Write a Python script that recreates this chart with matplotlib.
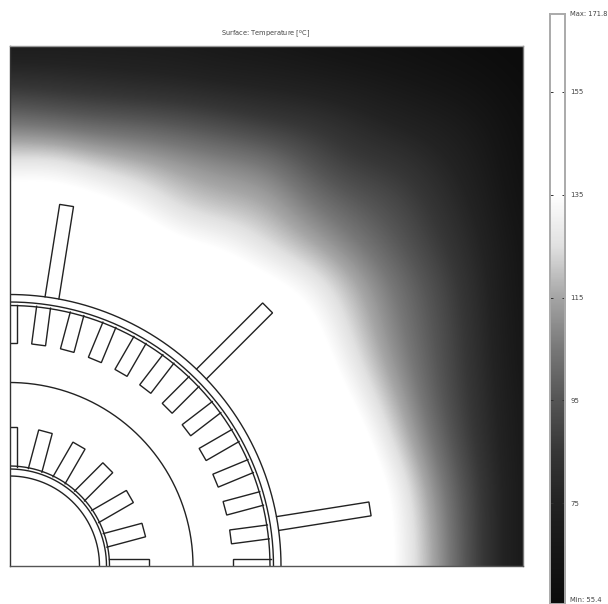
import numpy as np
import matplotlib
matplotlib.use("Agg")
import matplotlib.pyplot as plt
from matplotlib.colors import LinearSegmentedColormap, Normalize

W, H = 608, 604

# temperature, rows top to bottom, 13 columns left to right
row_01 = [68, 69, 69, 69, 68, 66, 65, 63, 61, 60, 58, 56, 55]
row_02 = [84, 82, 80, 78, 77, 75, 74, 72, 70, 67, 64, 61, 56]
row_03 = [106, 103, 100, 99, 96, 92, 87, 85, 80, 75, 72, 67, 58]
row_04 = [130, 132, 124, 119, 114, 110, 107, 95, 87, 85, 78, 70, 59]
row_05 = [143, 143, 141, 134, 123, 119, 117, 106, 98, 92, 83, 73, 60]
row_06 = [150, 150, 148, 145, 138, 135, 125, 117, 107, 97, 87, 76, 62]
row_07 = [158, 158, 155, 152, 148, 145, 140, 132, 118, 104, 92, 78, 62]
row_08 = [164, 164, 160, 158, 155, 150, 146, 140, 123, 107, 94, 79, 63]
row_09 = [168, 168, 165, 162, 160, 155, 150, 145, 129, 111, 95, 80, 63]
row_10 = [170, 170, 168, 165, 162, 158, 154, 150, 137, 118, 97, 81, 65]
row_11 = [171, 171, 170, 168, 165, 160, 156, 152, 145, 125, 102, 82, 65]
row_12 = [171, 171, 170, 169, 166, 162, 158, 154, 148, 134, 108, 85, 65]
row_13 = [171, 171, 170, 169, 167, 163, 160, 156, 150, 136, 112, 85, 65]
row_14 = [171, 171, 170, 169, 167, 164, 161, 157, 150, 136, 113, 85, 65]

temperature = np.array([row_01, row_02, row_03, row_04, row_05, row_06, row_07,
                        row_08, row_09, row_10, row_11, row_12, row_13, row_14], dtype=float)

# grey scale of the colour bar
scale_temp = [55.4, 65, 75, 85, 95, 105, 115, 125, 135, 171.8]
scale_grey = [12, 22, 35, 55, 85, 120, 165, 225, 255, 255]

bar_ticks = [155, 135, 115, 95, 75]
t_min = 55.4
t_max = 171.8

# geometry of the machine section, radii from the corner
arc_radii = [90, 97, 100, 183.5, 260.5, 264, 271.5]
stator_angles = [0, 7.5, 15, 22.5, 30, 37.5, 45, 52.5, 60, 67.5, 75, 82.5, 90]
stator_slot = (261, 223)
rotor_angles = [0, 15, 30, 45, 60, 75, 90]
rotor_slot = (99, 139)
fin_angles = [9, 45, 81]
fin_span = (271.5, 365)
slot_half_width = 7

grey_pos = [(t - t_min) / (t_max - t_min) for t in scale_temp]
grey_cols = [(g / 255, g / 255, g / 255) for g in scale_grey]
cmap = LinearSegmentedColormap.from_list("machine_grey", list(zip(grey_pos, grey_cols)), N=512)
norm = Normalize(t_min, t_max)

fig = plt.figure(figsize=(W / 100, H / 100), dpi=100, facecolor="white")

# main plot
left, right, top, bottom = 9.5, 523, 46, 566
ax = fig.add_axes([left / W, (H - bottom) / H, (right - left) / W, (bottom - top) / H])
span_x = right - left
span_y = bottom - top
dx = span_x / (temperature.shape[1] - 1)
dy = span_y / (temperature.shape[0] - 1)
ax.imshow(temperature, cmap=cmap, norm=norm, aspect="auto", origin="upper",
          interpolation="bicubic", interpolation_stage="data",
          extent=[-dx / 2, span_x + dx / 2, -dy / 2, span_y + dy / 2])


def radial_slot(angle, r0, r1, half_width):
    a = np.radians(angle)
    ux, uy = np.cos(a), np.sin(a)
    vx, vy = -uy, ux
    xs = [r0 * ux + half_width * vx, r1 * ux + half_width * vx,
          r1 * ux - half_width * vx, r0 * ux - half_width * vx]
    ys = [r0 * uy + half_width * vy, r1 * uy + half_width * vy,
          r1 * uy - half_width * vy, r0 * uy - half_width * vy]
    ax.plot(xs, ys, color="#222222", lw=1.0, solid_joinstyle="miter")


theta = np.linspace(0, np.pi / 2, 300)
for r in arc_radii:
    ax.plot(r * np.cos(theta), r * np.sin(theta), color="#222222", lw=1.0)
for ang in stator_angles:
    radial_slot(ang, stator_slot[0], stator_slot[1], slot_half_width)
for ang in rotor_angles:
    radial_slot(ang, rotor_slot[0], rotor_slot[1], slot_half_width)
for ang in fin_angles:
    radial_slot(ang, fin_span[0], fin_span[1], slot_half_width)

ax.set_xlim(0, span_x)
ax.set_ylim(0, span_y)
ax.set_xticks([])
ax.set_yticks([])
for side, col in [("top", "#999999"), ("right", "#777777"), ("left", "#333333"), ("bottom", "#555555")]:
    ax.spines[side].set_color(col)
    ax.spines[side].set_linewidth(1.0)

fig.text(266 / W, (H - 34) / H, "Surface: Temperature [$^\\mathregular{o}$C]", ha="center", va="center",
         fontsize=4.8, color="#444444")

# colour bar, runs off the bottom edge of the figure
bar_left, bar_right, bar_top, bar_bottom = 549.5, 565, 13.5, 604
cax = fig.add_axes([bar_left / W, (H - bar_bottom) / H, (bar_right - bar_left) / W, (bar_bottom - bar_top) / H])
px_per_deg = 5.14
bar_hi = 155 + (92 - bar_top) / px_per_deg
bar_lo = 155 - (bar_bottom - 92) / px_per_deg
levels = np.linspace(bar_hi, bar_lo, 600).reshape(-1, 1)
cax.imshow(levels, cmap=cmap, norm=norm, aspect="auto", origin="upper", extent=[0, 1, bar_lo, bar_hi])
cax.set_xlim(0, 1)
cax.set_ylim(bar_lo, bar_hi)
cax.set_xticks([])
cax.set_yticks(bar_ticks)
cax.tick_params(axis="y", direction="in", length=2.2, width=0.7, color="#333333",
                left=True, right=True, labelleft=False, labelright=True,
                labelsize=5, labelcolor="#444444", pad=4)
for s in cax.spines.values():
    s.set_color("#aaaaaa")
    s.set_linewidth(1.4)

fig.text(570 / W, (H - 14) / H, f"Max: {t_max}", ha="left", va="center", fontsize=4.9, color="#444444")
fig.text(570 / W, (H - 600) / H, f"Min: {t_min}", ha="left", va="center", fontsize=4.9, color="#444444")

fig.savefig("out.png", dpi=100, facecolor="white")
